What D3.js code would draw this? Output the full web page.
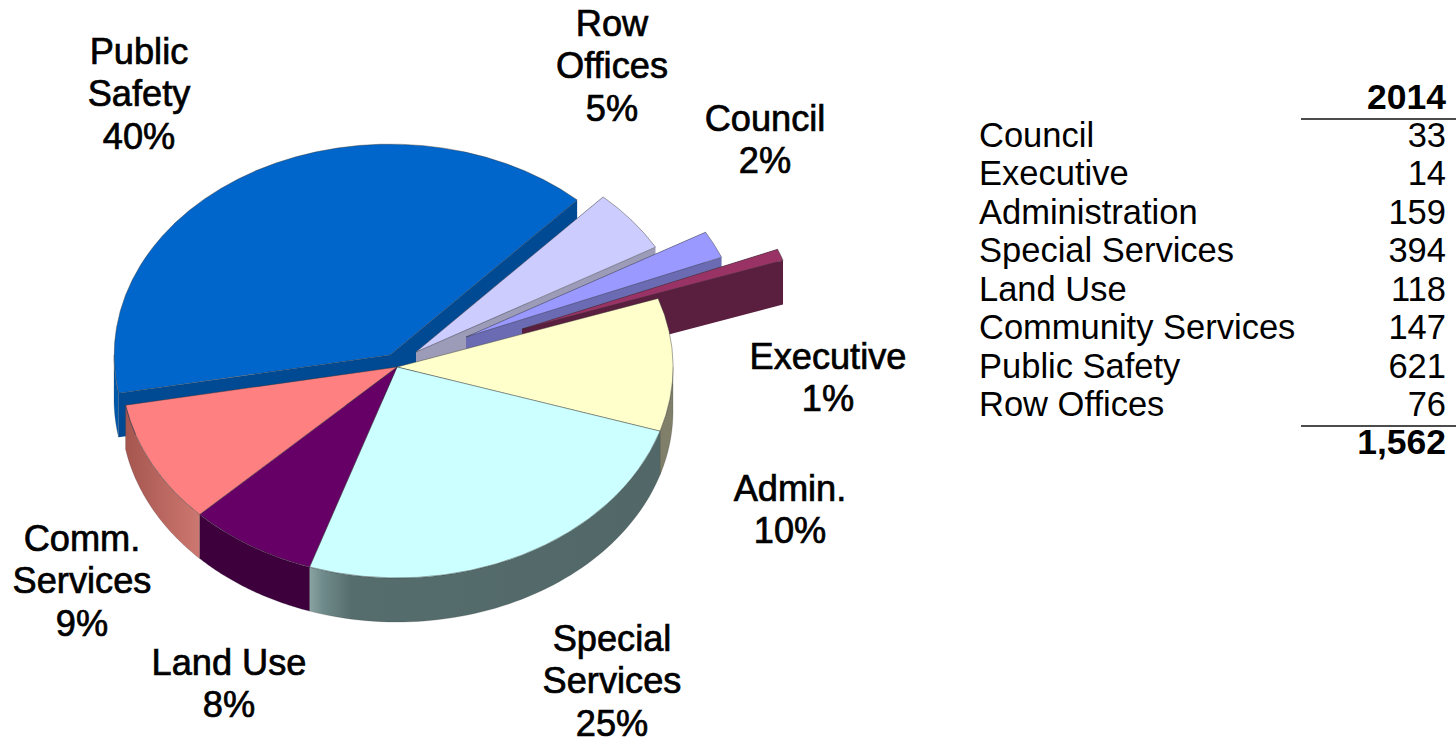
<!DOCTYPE html>
<html>
<head>
<meta charset="utf-8">
<script src="https://cdn.jsdelivr.net/npm/d3@7"></script>
<style>
  html, body { margin: 0; padding: 0; background: #fff; }
  text { font-family: "Liberation Sans", Arial, sans-serif; fill: #000; }
</style>
</head>
<body>
<div id="chart"></div>
<script>
// table values, in the order of the table and of the pie
const categories = ["Council", "Executive", "Administration", "Special Services", "Land Use", "Community Services", "Public Safety", "Row Offices"];
const values2014 = [33, 14, 159, 394, 118, 147, 621, 76];
const columnHead = "2014";
const totalLabel = "1,562";

// pie labels
const sliceNames = [["Council"], ["Executive"], ["Admin."], ["Special", "Services"], ["Land Use"], ["Comm.", "Services"], ["Public", "Safety"], ["Row", "Offices"]];
const slicePercents = ["2%", "1%", "10%", "25%", "8%", "9%", "40%", "5%"];

// look of each slice, same order
const topColors = ["#9999ff", "#993366", "#ffffcc", "#ccffff", "#660066", "#ff8080", "#0066cc", "#ccccff"];
const wallColors = ["#6b6bb3", "#5a1f3f", "#80806a", "#546a6a", "#3d003d", "#b0605a", "#0058ab", "#9c9cb8"];
const faceColors = ["#6b6bb3", "#5a1f3f", "#80806a", "#546a6a", "#3d003d", "#b0605a", "#004a94", "#9c9cb8"];
const sliceShift = [[69, -30], [125, -38], [0, 0], [0, 0], [0, 0], [0, 0], [-7, -12], [19, -15]];
const labelX = [765, 828, 790, 612, 229, 82, 139, 612];
const labelY = [131, 369, 501, 651, 675, 551, 64, 36];
const drawOrder = [6, 7, 0, 1, 2, 3, 4, 5];

const width = 1456, height = 739;
const cx = 397, cy = 367, rx = 276, ry = 211, depth = 44;
const lineGap = 42.3;

const svg = d3.select("#chart").append("svg")
  .attr("width", width).attr("height", height)
  .style("display", "block");

const defs = svg.append("defs");
function wallGradient(id, stops) {
  const g = defs.append("linearGradient").attr("id", id);
  stops.forEach(s => g.append("stop").attr("offset", s[0]).attr("stop-color", s[1]));
}
wallGradient("wall3", [[0, "#8aa3a3"], [0.04, "#6f8a8a"], [0.12, "#566d6d"], [1, "#526868"]]);
wallGradient("wall5", [[0, "#a5564f"], [0.6, "#bd6a63"], [1, "#cc7870"]]);

const px = d3.scaleLinear().domain([-1, 1]).range([-rx, rx]);
const py = d3.scaleLinear().domain([-1, 1]).range([-ry, ry]);

const pie = d3.pie().sort(null)
  .startAngle(60.2 * Math.PI / 180)
  .endAngle((60.2 + 360) * Math.PI / 180);
const arcs = pie(values2014);

const topArc = d3.arc().innerRadius(0).outerRadius(1);
const line = d3.line();

// point on the rim for a pie angle (0 = up, clockwise)
const rim = (a, dy) => [px(Math.sin(a)), py(-Math.cos(a)) + dy];

drawOrder.forEach(i => {
  const d = arcs[i];
  const g = svg.append("g")
    .attr("transform", `translate(${cx + sliceShift[i][0]},${cy + sliceShift[i][1]})`);
  const exploded = sliceShift[i][0] !== 0;

  // straight faces, only seen on pulled out slices
  if (exploded) {
    [d.startAngle, d.endAngle].forEach(a => {
      const p = rim(a, 0), q = rim(a, depth);
      g.append("path")
        .attr("d", line([[0, 0], p, q, [0, depth]]) + "Z")
        .attr("fill", faceColors[i]);
    });
  }

  // outer wall, front half of the rim only (PI/2 .. 3PI/2)
  const turn = Math.floor(d.startAngle / (2 * Math.PI)) * 2 * Math.PI;
  [0, 2 * Math.PI].forEach(k => {
    const a0 = Math.max(d.startAngle, turn + k + Math.PI / 2);
    const a1 = Math.min(d.endAngle, turn + k + 1.5 * Math.PI);
    if (a1 <= a0) return;
    const steps = d3.range(0, 61).map(t => a0 + (a1 - a0) * t / 60);
    const pts = steps.map(a => rim(a, 0)).concat(steps.slice().reverse().map(a => rim(a, depth)));
    const fill = i === 3 ? "url(#wall3)" : i === 5 ? "url(#wall5)" : wallColors[i];
    g.append("path").attr("d", line(pts) + "Z").attr("fill", fill)
      .attr("stroke", "rgba(50,50,50,0.35)").attr("stroke-width", 0.6);
  });

  // top of the slice
  g.append("g").attr("transform", `scale(${rx},${ry})`)
    .append("path")
    .attr("d", topArc(d))
    .attr("fill", topColors[i])
    .attr("stroke", "rgba(50,50,50,0.55)")
    .attr("stroke-width", 0.8)
    .attr("vector-effect", "non-scaling-stroke");
});

// pie labels
categories.forEach((c, i) => {
  const lines = sliceNames[i].concat(slicePercents[i]);
  const t = svg.append("text")
    .attr("text-anchor", "middle")
    .attr("font-size", 36.2)
    .attr("stroke", "#000").attr("stroke-width", 0.7);
  lines.forEach((l, k) => {
    t.append("tspan").attr("x", labelX[i]).attr("y", labelY[i] + k * lineGap).text(l);
  });
});

// table on the right
const rowY = d3.scaleLinear().domain([0, categories.length - 1]).range([147, 416]);
const table = svg.append("g");

table.selectAll("text.name").data(categories).enter().append("text")
  .attr("class", "name")
  .attr("x", 979).attr("y", (d, i) => rowY(i)).attr("font-size", 34.5)
  .text(d => d);

table.selectAll("text.val").data(values2014).enter().append("text")
  .attr("class", "val")
  .attr("x", 1446).attr("y", (d, i) => rowY(i)).attr("text-anchor", "end").attr("font-size", 34.5)
  .text(d => d);

table.append("text").attr("x", 1446).attr("y", rowY(-1) + 0.5).attr("text-anchor", "end")
  .attr("font-size", 35.5).attr("font-weight", "bold").text(columnHead);
table.append("text").attr("x", 1446).attr("y", rowY(8)).attr("text-anchor", "end")
  .attr("font-size", 35.5).attr("font-weight", "bold").text(totalLabel);

[119, 426].forEach(y => {
  table.append("line").attr("x1", 1301).attr("x2", 1456).attr("y1", y).attr("y2", y)
    .attr("stroke", "#111").attr("stroke-width", 1.5);
});
</script>
</body>
</html>
